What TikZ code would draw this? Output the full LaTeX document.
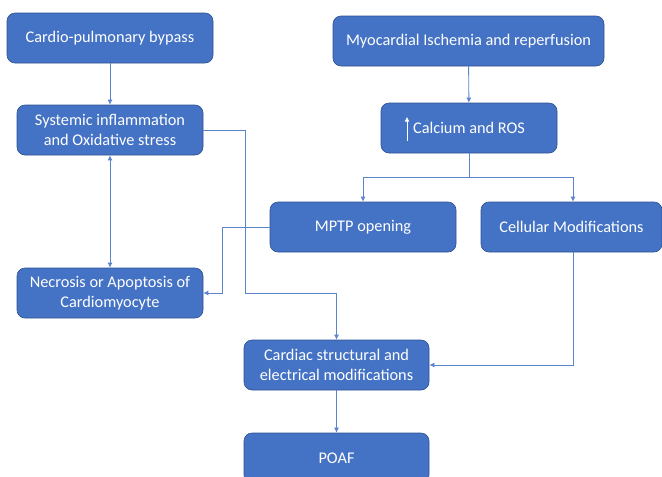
\documentclass[tikz,border=0pt]{standalone}
\usepackage{fontspec}
\setmainfont{Carlito}
\usetikzlibrary{arrows.meta}
\definecolor{boxblue}{HTML}{4472C4}
\definecolor{boxedge}{HTML}{2F528F}
\definecolor{lineblue}{HTML}{5B84CC}
\tikzset{
  stage/.style={rectangle, rounded corners=8pt, fill=boxblue, draw=boxedge, line width=0.6pt,
    text=white, align=center, font=\fontsize{16.3}{19.5}\selectfont, inner sep=0pt},
  conn/.style={draw=lineblue, line width=0.9pt, -{Latex[length=5pt,width=5pt]}},
}
\begin{document}
\begin{tikzpicture}[x=1pt, y=-1pt]
    \useasboundingbox (0,0) rectangle (662,477);

    % Boxes
    \node[stage, minimum width=206, minimum height=50] (cpb) at (110,38) {Cardio-pulmonary bypass};
    \node[stage, minimum width=186, minimum height=50] (sys) at (110,130) {Systemic inflammation\\and Oxidative stress};
    \node[stage, minimum width=186, minimum height=50] (nec) at (110,293) {Necrosis or Apoptosis of\\Cardiomyocyte};
    \node[stage, minimum width=271, minimum height=50] (myo) at (468.5,41) {Myocardial Ischemia and reperfusion};
    \node[stage, minimum width=176, minimum height=50] (cal) at (469,128) {Calcium and ROS};
    \node[stage, minimum width=186, minimum height=50] (mptp) at (363,227) {MPTP opening};
    \node[stage, minimum width=181, minimum height=50] (cell) at (571.5,227) {Cellular Modifications};
    \node[stage, minimum width=185, minimum height=50] (card) at (336.5,365) {Cardiac structural and\\electrical modifications};
    \node[stage, minimum width=185, minimum height=50] (poaf) at (336.5,458) {POAF};

    % small up arrow in front of Calcium
    \draw[white, line width=0.8pt, -{Triangle[length=4.5pt,width=4pt]}] ([shift={(-62,13)}]cal.center) -- ([shift={(-62,-11)}]cal.center);

    % Arrows
    \draw[conn] (cpb) -- (sys);
    \draw[conn, {Latex[length=5pt,width=5pt]}-{Latex[length=5pt,width=5pt]}] (sys) -- (nec);
    \draw[conn] (sys.east) -| (245,293) -| (card.north);
    \draw[conn] (myo) -- (cal);
    \draw[conn] (cal.south) -- (469,177) -| (mptp.north);
    \draw[conn] (469,177) -| ([xshift=1.5pt]cell.north);
    \draw[conn] (mptp.west) -- ++(-47,0) |- (nec.east);
    \draw[conn] ([xshift=1.5pt]cell.south) |- (card.east);
    \draw[conn] (card) -- (poaf);
\end{tikzpicture}
\end{document}
